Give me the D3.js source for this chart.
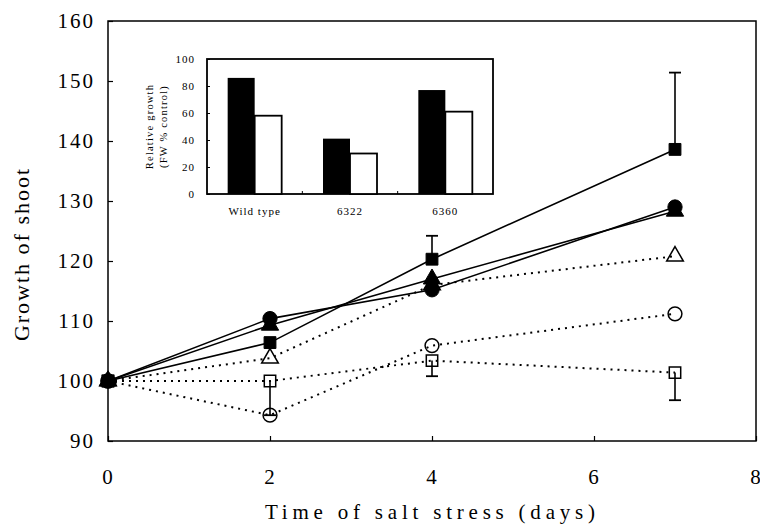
<!DOCTYPE html>
<html><head><meta charset="utf-8">
<script src="https://cdn.jsdelivr.net/npm/d3@7"></script>
<style>body{margin:0;background:#fff}svg{display:block}text{font-family:"Liberation Serif","Times New Roman",serif;fill:#000}</style>
</head><body><svg id="c" width="760" height="528"></svg>
<script>
const days = [0, 2, 4, 7];
const filledSquare   = [100, 106.4, 120.3, 138.6];
const filledCircle   = [100, 110.4, 115.2, 129.0];
const filledTriangle = [100, 109.3, 117.0, 128.3];
const openTriangle   = [100, 103.8, 116.0, 120.8];
const openCircle     = [100, 94.3, 105.9, 111.2];
const openSquare     = [100, 100.0, 103.4, 101.4];
// error bars: [day, value, end]
const errSquareFilled = [[4, 120.3, 124.2], [7, 138.6, 151.4]];
const errSquareOpen   = [[2, 100.0, 94.3], [4, 103.4, 100.8], [7, 101.4, 96.8]];
const xTicks = [0, 2, 4, 6, 8];
const yTicks = [90, 100, 110, 120, 130, 140, 150, 160];
// inset
const genotypes = ["Wild type", "6322", "6360"];
const insetBlack = [86, 41, 77];
const insetWhite = [58, 30, 61];
const insetTicks = [0, 20, 40, 60, 80, 100];

const svg = d3.select("#c");
const L = 108, R = 756, T = 21, B = 441;
const x = d3.scaleLinear().domain([0, 8]).range([L, R]);
const y = d3.scaleLinear().domain([90, 160]).range([B, T]);

// frame
svg.append("rect").attr("x", L).attr("y", T).attr("width", R - L).attr("height", B - T)
  .attr("fill", "none").attr("stroke", "#000").attr("stroke-width", 1.5);

// axes (inward ticks)
const yAxis = svg.append("g").attr("transform", `translate(${L},0)`)
  .call(d3.axisLeft(y).tickValues(yTicks).tickSize(-5).tickPadding(13).tickFormat(d3.format("d")));
const xAxis = svg.append("g").attr("transform", `translate(0,${B})`)
  .call(d3.axisBottom(x).tickValues(xTicks).tickSize(-5).tickPadding(28).tickFormat(d3.format("d")));
[yAxis, xAxis].forEach(g => {
  g.select(".domain").remove();
  g.selectAll("line").attr("stroke", "#000").attr("stroke-width", 1.2);
  g.selectAll("text").style("font-family", '"Liberation Serif",serif').style("font-size", "21px")
    .style("letter-spacing", "2px").attr("fill", "#000");
});

svg.append("text").attr("transform", `translate(29,254) rotate(-90)`)
  .attr("text-anchor", "middle").style("font-size", "22px").style("letter-spacing", "2px").text("Growth of shoot");
svg.append("text").attr("x", (L + R) / 2 - 2).attr("y", 519).attr("text-anchor", "middle")
  .style("font-size", "21px").attr("textLength", 330).attr("lengthAdjust", "spacing").text("Time of salt stress (days)");

// lines
const line = d3.line().x((d, i) => x(days[i])).y(d => y(d));
const series = [
  {v: openSquare, dash: true}, {v: openCircle, dash: true}, {v: openTriangle, dash: true},
  {v: filledTriangle, dash: false}, {v: filledCircle, dash: false}, {v: filledSquare, dash: false}
];
series.forEach(s => {
  svg.append("path").attr("d", line(s.v)).attr("fill", "none").attr("stroke", "#000")
    .attr("stroke-width", s.dash ? 2 : 1.6).attr("stroke-dasharray", s.dash ? "2,5" : null);
});

// error bars
function err(list) {
  list.forEach(([d, v, e]) => {
    svg.append("line").attr("x1", x(d)).attr("x2", x(d)).attr("y1", y(v)).attr("y2", y(e))
      .attr("stroke", "#000").attr("stroke-width", 1.6);
    svg.append("line").attr("x1", x(d) - 6).attr("x2", x(d) + 6).attr("y1", y(e)).attr("y2", y(e))
      .attr("stroke", "#000").attr("stroke-width", 1.8);
  });
}
err(errSquareFilled); err(errSquareOpen);

// markers
const sym = (type, size) => d3.symbol().type(type).size(size)();
function markers(vals, type, size, filled) {
  svg.append("g").selectAll("path").data(vals).join("path")
    .attr("transform", (d, i) => `translate(${x(days[i])},${y(d)})`)
    .attr("d", sym(type, size))
    .attr("fill", filled ? "#000" : "none").attr("stroke", "#000").attr("stroke-width", filled ? 1 : 1.5);
}
markers(openSquare, d3.symbolSquare, 130, false);
markers(openCircle, d3.symbolCircle, 150, false);
markers(openTriangle, d3.symbolTriangle, 120, false);
markers(filledTriangle, d3.symbolTriangle, 130, true);
markers(filledCircle, d3.symbolCircle, 160, true);
markers(filledSquare, d3.symbolSquare, 140, true);

// inset
const iL = 207, iR = 493, iT = 59, iB = 194;
const ix = d3.scaleBand().domain(genotypes).range([iL, iR]).paddingInner(0).paddingOuter(0);
const iy = d3.scaleLinear().domain([0, 100]).range([iB, iT]);
const ins = svg.append("g");
ins.append("rect").attr("x", iL).attr("y", iT).attr("width", iR - iL).attr("height", iB - iT)
  .attr("fill", "#fff").attr("stroke", "#000").attr("stroke-width", 1.8);
const bw = 27;
genotypes.forEach((g, i) => {
  const c = ix(g) + ix.bandwidth() / 2;
  ins.append("rect").attr("x", c - bw).attr("y", iy(insetBlack[i])).attr("width", bw)
    .attr("height", iy(0) - iy(insetBlack[i])).attr("fill", "#000");
  ins.append("rect").attr("x", c).attr("y", iy(insetWhite[i])).attr("width", bw)
    .attr("height", iy(0) - iy(insetWhite[i])).attr("fill", "#fff").attr("stroke", "#000").attr("stroke-width", 1.8);
});
const iyAxis = ins.append("g").attr("transform", `translate(${iL},0)`)
  .call(d3.axisLeft(iy).tickValues(insetTicks).tickSize(-3).tickPadding(12));
const ixAxis = ins.append("g").attr("transform", `translate(0,${iB})`)
  .call(d3.axisBottom(ix).tickSize(0).tickPadding(13));
[iyAxis, ixAxis].forEach(g => {
  g.select(".domain").remove();
  g.selectAll("line").attr("stroke", "#000");
  g.selectAll("text").style("font-family", '"Liberation Serif",serif').style("font-size", "11px")
    .style("letter-spacing", "1px").attr("fill", "#000");
});
// inward ticks at category boundaries
ins.selectAll(".bt").data(genotypes.slice(1)).join("line")
  .attr("x1", d => ix(d)).attr("x2", d => ix(d)).attr("y1", iB).attr("y2", iB - 3).attr("stroke", "#000");
ins.append("text").attr("transform", `translate(153,${(iT + iB) / 2}) rotate(-90)`).attr("text-anchor", "middle")
  .style("font-size", "10.5px").style("letter-spacing", "1.2px").text("Relative growth");
ins.append("text").attr("transform", `translate(167,${(iT + iB) / 2}) rotate(-90)`).attr("text-anchor", "middle")
  .style("font-size", "10.5px").style("letter-spacing", "1.2px").text("(FW % control)");
</script></body></html>
